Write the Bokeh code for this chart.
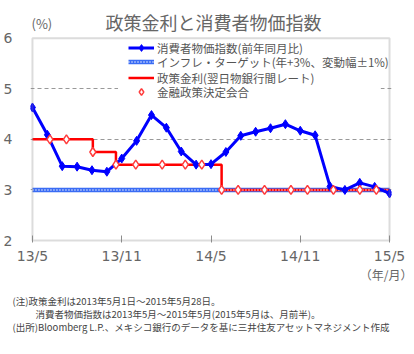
import pandas as pd
from bokeh.plotting import figure
from bokeh.layouts import column
from bokeh.models import Range1d, FixedTicker, Legend, LegendItem, Label, BoxAnnotation
from bokeh.embed import file_html
from bokeh.resources import INLINE

# ---- data ----
start_date = "2013-05-01"
end_date = "2015-05-28"
cpi_month_index = list(range(25))  # 2013/5 ... 2015/5
cpi_values = [4.63, 4.09, 3.47, 3.46, 3.39, 3.36, 3.62, 3.97, 4.48, 4.23, 3.76, 3.50,
              3.51, 3.75, 4.07, 4.15, 4.22, 4.30, 4.17, 4.08, 3.07, 3.00, 3.14, 3.06, 2.93]
x_tick_positions = [0, 6, 12, 18, 24]
x_tick_labels = ["13/5", "13/11", "14/5", "14/11", "15/5"]
y_ticks = [2, 3, 4, 5, 6]
y_min, y_max = 2, 6
rate_dates = ["2013-05-01", "2013-09-06", "2013-10-25", "2014-06-06", "2015-05-28"]
rate_values = [4.0, 3.75, 3.5, 3.0, 3.0]
meeting_dates = ["2013-06-07", "2013-07-12", "2013-09-06", "2013-10-25", "2013-12-06",
                 "2014-01-31", "2014-03-21", "2014-04-25", "2014-06-06", "2014-07-11",
                 "2014-09-05", "2014-10-31", "2014-12-05", "2015-01-29", "2015-03-26",
                 "2015-04-30"]
meeting_values = [4.0, 4.0, 3.75, 3.5, 3.5, 3.5, 3.5, 3.5, 3.0, 3.0, 3.0, 3.0, 3.0, 3.0, 3.0, 3.0]
target_dates = ["2013-05-01", "2015-05-28"]
target_values = [3.0, 3.0]

title_text = "政策金利と消費者物価指数"
unit_text = "(%)"
xunit_text = "（年/月）"
legend_labels = ["消費者物価指数(前年同月比)",
                 "インフレ・ターゲット(年+3%、変動幅±1%)",
                 "政策金利(翌日物銀行間レート)",
                 "金融政策決定会合"]
notes = ["(注)政策金利は2013年5月1日～2015年5月28日。",
         "消費者物価指数は2013年5月～2015年5月(2015年5月は、月前半)。",
         "(出所)Bloomberg L.P.、メキシコ銀行のデータを基に三井住友アセットマネジメント作成"]

# ---- helpers ----
t0 = pd.Timestamp(start_date)
def to_days(ds):
    return [(pd.Timestamp(d) - t0).days for d in ds]
total_days = (pd.Timestamp(end_date) - t0).days

JP = "Noto Sans CJK JP"
GRAY = "#666666"
W = 414
H_MAIN, H_BOT = 266, 88

# plot-area geometry (pixels): box x 26..389, y 38 (top) .. 242 (bottom)
BOX_L, BOX_R, BOX_T, BOX_B = 26, 389, 38, 242
PAD = 2                        # frame extends PAD px beyond the box left/right/bottom
FR_L, FR_R, FR_B = BOX_L - PAD, BOX_R + PAD, BOX_B + PAD
n_months = x_tick_positions[-1]
px_month = (BOX_R - BOX_L) / n_months
px_day = (BOX_R - BOX_L) / total_days
px_unit = (BOX_B - BOX_T) / (y_max - y_min)
def px_to_month(x):
    return (x - BOX_L) / px_month
def px_to_val(y):
    return y_max - (y - BOX_T) / px_unit

p = figure(width=W, height=H_MAIN,
           x_range=Range1d(0 - PAD / px_month, n_months + PAD / px_month),
           y_range=Range1d(y_min - PAD / px_unit, y_max + BOX_T / px_unit),
           toolbar_location=None, output_backend="svg", frame_align=False,
           min_border_left=FR_L, min_border_right=W - FR_R,
           min_border_top=0, min_border_bottom=H_MAIN - FR_B)
p.extra_x_ranges = {"days": Range1d(0 - PAD / px_day, total_days + PAD / px_day)}
p.background_fill_color = "white"
p.border_fill_color = "white"
p.outline_line_color = None

p.xgrid.visible = False
p.ygrid.ticker = FixedTicker(ticks=[3, 4, 5])
p.ygrid.grid_line_color = "#999999"
p.ygrid.grid_line_dash = "4 3"
p.ygrid.grid_line_width = 1

p.yaxis.ticker = FixedTicker(ticks=y_ticks)
p.yaxis.axis_line_color = None
p.yaxis.major_tick_line_color = None
p.yaxis.minor_tick_line_color = None
p.yaxis.major_label_standoff = 12
p.yaxis.major_label_text_font = "DejaVu Sans"
p.yaxis.major_label_text_font_size = "14px"
p.yaxis.major_label_text_color = GRAY

p.xaxis.ticker = FixedTicker(ticks=x_tick_positions)
p.xaxis.major_label_overrides = {t: l for t, l in zip(x_tick_positions, x_tick_labels)}
p.xaxis.axis_line_color = None
p.xaxis.major_tick_in = 7
p.xaxis.major_tick_out = 0
p.xaxis.major_tick_line_color = "#8c8c8c"
p.xaxis.minor_tick_line_color = None
p.xaxis.major_label_standoff = 5
p.xaxis.major_label_text_font = "DejaVu Sans"
p.xaxis.major_label_text_font_size = "14px"
p.xaxis.major_label_text_color = GRAY

tband = p.line(to_days(target_dates), target_values, x_range_name="days",
               line_color="#3a6cf4", line_width=4.5)
rate = p.step(to_days(rate_dates), rate_values, mode="after", x_range_name="days",
              line_color="#ff0000", line_width=2.5)
tdots = p.line(to_days(target_dates), target_values, x_range_name="days",
               line_color="white", line_width=1.5, line_dash="1 2")
cpi_line = p.line(cpi_month_index, cpi_values, line_color="#0000ff", line_width=3)
cpi_pts = p.scatter(cpi_month_index, cpi_values, marker="diamond", size=9,
                    fill_color="#0000ff", line_color="#0000ff")
meet = p.scatter(to_days(meeting_dates), meeting_values, x_range_name="days",
                 marker="diamond", size=9, fill_color="white", line_color="#ff3c3c",
                 line_width=1.5)

# plot-area border
p.add_layout(BoxAnnotation(left=0, right=n_months, bottom=y_min, top=y_max,
                           fill_alpha=0, line_color="#8c8c8c", line_width=2))

# white legend backdrop (pixel box 113..380 x 41..100)
LEG_L, LEG_T, LEG_R, LEG_B = 113, 41, 380, 100
p.add_layout(BoxAnnotation(left=px_to_month(LEG_L), right=px_to_month(LEG_R),
                           top=px_to_val(LEG_T), bottom=px_to_val(LEG_B),
                           fill_color="white", fill_alpha=1.0, line_color=None))

# one single-row legend per entry (screen offsets from the frame's bottom-left)
ROW_H = 17
row_centers = [49, 64, 80, 93]
legend_rows = [
    (legend_labels[0], [cpi_line, cpi_pts]),
    (legend_labels[1], [tband, tdots]),
    (legend_labels[2], [rate]),
    (legend_labels[3], [meet]),
]
for (label, rends), cy in zip(legend_rows, row_centers):
    lg = Legend(items=[LegendItem(label=label, renderers=rends)],
                location=(122 - FR_L, round(FR_B - cy - ROW_H / 2)))
    lg.background_fill_alpha = 0
    lg.border_line_color = None
    lg.label_text_font = JP
    lg.label_text_font_size = "11.5px"
    lg.label_text_color = "#555555"
    lg.glyph_width = 26
    lg.glyph_height = ROW_H
    lg.label_height = ROW_H
    lg.padding = 0
    lg.margin = 0
    lg.label_standoff = 3
    p.add_layout(lg)


def frame_label(text, cx, cy, size, align="left"):
    # cx, cy: canvas pixels; converted to screen offsets from the frame's bottom-left
    p.add_layout(Label(x=cx - FR_L, y=FR_B - cy, x_units="screen", y_units="screen",
                       text=text, text_font=JP, text_font_size=size, text_color=GRAY,
                       text_align=align, text_baseline="middle"))


frame_label(title_text, 207, 23, "18px", align="center")
frame_label(unit_text, 25, 25, "13px")

# ---- footer ----
bot = figure(width=W, height=H_BOT, x_range=Range1d(0, W), y_range=Range1d(H_BOT, 0),
             toolbar_location=None, output_backend="svg",
             min_border_left=0, min_border_right=0, min_border_top=0, min_border_bottom=0,
             x_axis_type=None, y_axis_type=None, outline_line_color=None, frame_align=False)
bot.grid.visible = False
bot.background_fill_color = "white"
bot.border_fill_color = "white"


def foot_label(text, x, y, size, color="#444444", align="left"):
    bot.add_layout(Label(x=x, y=y, text=text, text_font=JP, text_font_size=size,
                         text_color=color, text_align=align, text_baseline="middle"))


foot_label(xunit_text, 412, 8, "12px", color=GRAY, align="right")
foot_label(notes[0], 12, 34, "9.5px")
foot_label(notes[1], 35, 47, "9.5px")
foot_label(notes[2], 12, 60, "9.5px")

layout = column(p, bot, spacing=0)
open("out.html", "w").write(file_html(layout, INLINE))
